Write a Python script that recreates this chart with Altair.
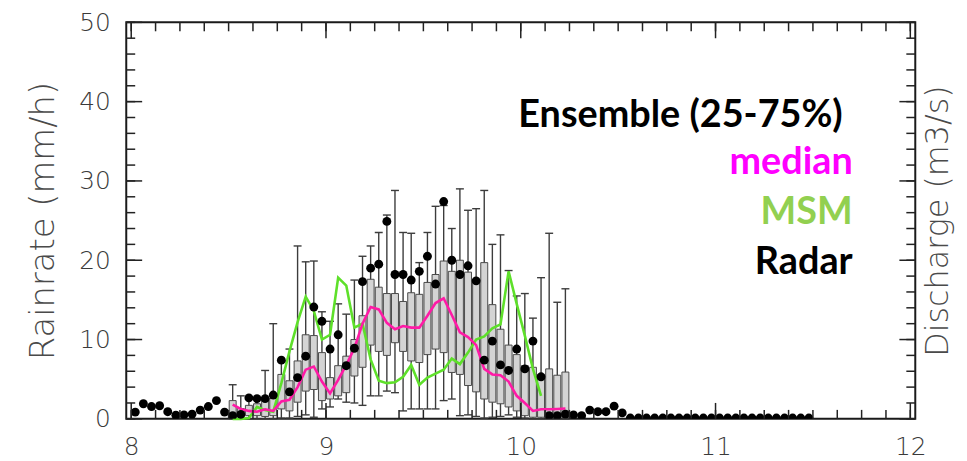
import altair as alt
import pandas as pd

# ---------------- data ----------------
# hours after day 8.0 (values are hourly, plotted at the middle of each hour)
radar_hours = list(range(84))
radar = [0.85, 1.9, 1.55, 1.65, 0.9, 0.45, 0.5, 0.6, 1.1, 1.55, 2.3, 0.85, 0.4, 0.55,
         2.65, 2.55, 2.55, 3.0, 7.4, 3.4, 5.2, 7.9, 14.1, 12.3, 8.8, 10.6, 6.7, 8.9,
         17.3, 19.0, 19.5, 24.9, 18.2, 18.2, 17.5, 18.6, 20.5, 17.0, 27.4, 20.0, 18.2,
         19.3, 17.4, 7.4, 9.8, 6.8, 6.1, 8.8, 6.3, 9.8, 5.3, 0.4, 0.4, 0.6, 0.5, 0.4,
         1.1, 0.9, 0.9, 1.6, 0.75, 0.1, 0.1, 0.1, 0.1, 0.1, 0.1, 0.1, 0.1, 0.1, 0.1,
         0.1, 0.1, 0.1, 0.1, 0.1, 0.1, 0.1, 0.1, 0.1, 0.1, 0.1, 0.1, 0.1]

ens_hours = list(range(12, 54))
ens_lo = [0, 0, 0, 0, 0, 0, 0.1, 0.1, 0.3, 0.5, 0.2, 1.25, 1.5, 2.5, 2.1, 2.0,
          1.7, 2.9, 2.9, 3.5, 3.3, 1.0, 1.25, 1.25, 1.25, 1.25, 2.3, 2.5, 0.4, 0.5,
          0.3, 0.1, 0.2, 0.3, 0.5, 0.2, 0.1, 0, 0, 0, 0, 0]
ens_q1 = [0.6, 0.3, 0.4, 0.4, 0.3, 0.4, 1.25, 1.0, 2.1, 3.5, 3.7, 2.3, 2.5, 2.9,
          3.3, 5.4, 6.5, 9.3, 8.5, 8.0, 9.6, 8.5, 7.3, 7.1, 8.1, 8.8, 8.35, 5.85,
          5.6, 4.2, 3.4, 2.5, 2.1, 1.9, 1.5, 1.0, 0.4, 0.2, 0.2, 0.2, 0.2, 0.2]
ens_med = [1.8, 1.25, 1.0, 0.9, 1.2, 1.0, 2.2, 2.4, 4.0, 6.2, 6.6, 4.7, 3.2, 4.9,
           6.8, 8.9, 12.0, 14.1, 13.8, 12.1, 11.3, 11.7, 11.5, 11.5, 13.0, 14.6,
           15.2, 13.1, 10.9, 10.3, 9.3, 6.3, 5.6, 5.5, 4.7, 2.9, 2.0, 1.0, 1.2, 1.2,
           1.25, 1.3]
ens_q3 = [2.3, 1.3, 1.7, 1.9, 2.5, 2.6, 5.6, 4.8, 7.3, 10.6, 10.5, 8.35, 5.2, 6.7,
          7.9, 10.0, 13.0, 17.6, 16.6, 15.8, 15.8, 14.8, 15.9, 15.7, 17.2, 18.2,
          19.9, 18.6, 20.0, 18.5, 17.6, 19.7, 14.4, 11.3, 9.3, 8.1, 6.7, 6.5, 5.6,
          6.3, 5.5, 5.9]
ens_hi = [4.3, 2.9, 2.5, 2.5, 6.1, 12.0, 7.2, 8.8, 21.8, 19.8, 19.9, 13.5, 12.3,
          14.5, 13.2, 17.5, 20.5, 21.8, 23.5, 25.7, 28.8, 23.5, 23.4, 19.7, 23.5,
          26.8, 26.9, 24.0, 29.0, 26.3, 26.5, 28.8, 22.0, 23.2, 18.7, 15.5, 15.8,
          12.7, 17.8, 23.4, 14.7, 16.4]

msm_hours = list(range(12, 51))
msm = [0.0, 0.0, 0.1, 1.5, 1.1, 0.9, 4.5, 8.5, 12.2, 15.4, 13.6, 10.0, 10.6, 17.8,
       16.8, 11.5, 12.0, 7.5, 4.8, 4.5, 4.6, 5.3, 6.8, 4.3, 5.2, 5.7, 6.2, 7.6, 6.9,
       8.35, 10.0, 10.4, 11.4, 11.9, 18.6, 14.5, 10.5, 6.3, 2.9]

x_labels = [8, 9, 10, 11, 12]
x_minor = [8 + k / 8 for k in range(33)]
y_labels = [0, 10, 20, 30, 40, 50]
y_minor = list(range(0, 51, 2))

legend_texts = ["Ensemble (25-75%)", "median", "MSM", "Radar"]
legend_colors = ["#000000", "#ff00ff", "#92d050", "#000000"]

# ---------------- chart ----------------
W, H = 794, 399
xs = alt.Scale(domain=[8, 12], nice=False, zero=False)
ys = alt.Scale(domain=[0, 50], nice=False, zero=False)


def t_of(hours):
    return [8 + (h + 0.5) / 24 for h in hours]


radar_df = pd.DataFrame({"t": t_of(radar_hours), "rain": radar})
ens_df = pd.DataFrame({"t": t_of(ens_hours), "lo": ens_lo, "q1": ens_q1,
                       "med": ens_med, "q3": ens_q3, "hi": ens_hi})
msm_df = pd.DataFrame({"t": t_of(msm_hours), "rain": msm})

AF = "DejaVu Sans"
x_axis = alt.Axis(values=x_labels, format="d", labelFontSize=25, labelFont=AF,
                  labelFontWeight=200, labelColor="#3a3a3a", labelPadding=16,
                  labelFlush=False, labelOverlap=False, ticks=False, domain=False,
                  grid=False, title=None)
y_axis = alt.Axis(values=y_labels, format="d", labelFontSize=25, labelFont=AF,
                  labelFontWeight=200, labelColor="#3a3a3a", labelPadding=16,
                  labelFlush=False, labelOverlap=False, ticks=False, domain=False,
                  grid=False, title="Rainrate (mm/h)", titleFont=AF,
                  titleFontSize=34, titleFontWeight=200, titleColor="#4a4a4a",
                  titlePadding=18)
y_axis_r = alt.Axis(orient="right", labels=False, ticks=False, domain=False,
                    grid=False, title="Discharge (m3/s)", titleFont=AF,
                    titleFontSize=32, titleFontWeight=200, titleColor="#4a4a4a",
                    titleAngle=270, titleBaseline="top", titlePadding=7)

DK = "#3c3c3c"
whisk = alt.Chart(ens_df).mark_rule(color=DK, strokeWidth=1.4).encode(
    x=alt.X("t:Q", scale=xs, axis=x_axis),
    y=alt.Y("lo:Q", scale=ys, axis=y_axis),
    y2="hi:Q")
cap_hi = alt.Chart(ens_df).mark_tick(orient="horizontal", size=8, thickness=1.4,
                                     color=DK, opacity=1).encode(
    x=alt.X("t:Q", scale=xs, axis=None), y=alt.Y("hi:Q", scale=ys, axis=None))
cap_lo = alt.Chart(ens_df).mark_tick(orient="horizontal", size=8, thickness=1.4,
                                     color=DK, opacity=1).encode(
    x=alt.X("t:Q", scale=xs, axis=None), y=alt.Y("lo:Q", scale=ys, axis=None))
boxes = alt.Chart(ens_df).mark_bar(size=7, fill="#d4d4d4", stroke="#4a4a4a",
                                   strokeWidth=1).encode(
    x=alt.X("t:Q", scale=xs, axis=None),
    y=alt.Y("q1:Q", scale=ys, axis=None), y2="q3:Q")
msm_line = alt.Chart(msm_df).mark_line(color="#5ee02a", strokeWidth=2.6).encode(
    x=alt.X("t:Q", scale=xs, axis=None), y=alt.Y("rain:Q", scale=ys, axis=None))
med_line = alt.Chart(ens_df).mark_line(color="#ff1aa6", strokeWidth=2.6).encode(
    x=alt.X("t:Q", scale=xs, axis=None), y=alt.Y("med:Q", scale=ys, axis=None))
dots = alt.Chart(radar_df).mark_circle(size=80, color="#000000", opacity=1,
                                       clip=True).encode(
    x=alt.X("t:Q", scale=xs, axis=None), y=alt.Y("rain:Q", scale=ys, axis=None))
right_ax = alt.Chart(ens_df).mark_point(opacity=0).encode(
    x=alt.X("t:Q", scale=xs, axis=None),
    y=alt.Y("hi:Q", scale=ys, axis=y_axis_r))

# inward ticks on all four sides
TK = dict(color="#222222", strokeWidth=1.5)
xmaj_df = pd.DataFrame({"v": x_labels})
xmin_df = pd.DataFrame({"v": x_minor})
ymaj_df = pd.DataFrame({"v": y_labels})
ymin_df = pd.DataFrame({"v": y_minor})
tick_layers = []
for df, ln in ((xmaj_df, 16), (xmin_df, 9)):
    for y0, y1 in ((H, H - ln), (0, ln)):
        tick_layers.append(alt.Chart(df).mark_rule(**TK).encode(
            x=alt.X("v:Q", scale=xs, axis=None),
            y=alt.value(y0), y2=alt.value(y1)))
for df, ln in ((ymaj_df, 16), (ymin_df, 9)):
    for x0, x1 in ((0, ln), (W, W - ln)):
        tick_layers.append(alt.Chart(df).mark_rule(**TK).encode(
            y=alt.Y("v:Q", scale=ys, axis=None),
            x=alt.value(x0), x2=alt.value(x1)))

# legend-like annotations
ann_pos = [(721, 105), (731, 153), (731, 203), (731, 253)]
ann_layers = []
for lab, col, (px, py) in zip(legend_texts, legend_colors, ann_pos):
    ann_layers.append(alt.Chart(pd.DataFrame({"label": [lab]})).mark_text(
        align="right", baseline="alphabetic", font="Lato", fontWeight="bold",
        fontSize=38, color=col).encode(
        text="label:N", x=alt.value(px), y=alt.value(py)))

chart = alt.layer(
    whisk, cap_hi, cap_lo, boxes, msm_line, med_line, dots, right_ax,
    *tick_layers, *ann_layers
).resolve_axis(x="independent", y="independent").properties(
    width=W, height=H,
    autosize=alt.AutoSizeParams(type="none"),
    padding={"left": 119, "top": 13, "right": 44, "bottom": 40},
    background="white",
).configure_view(stroke="#1a1a1a", strokeWidth=2)

chart.save("out.html", embed_options={"renderer": "svg", "actions": False})
